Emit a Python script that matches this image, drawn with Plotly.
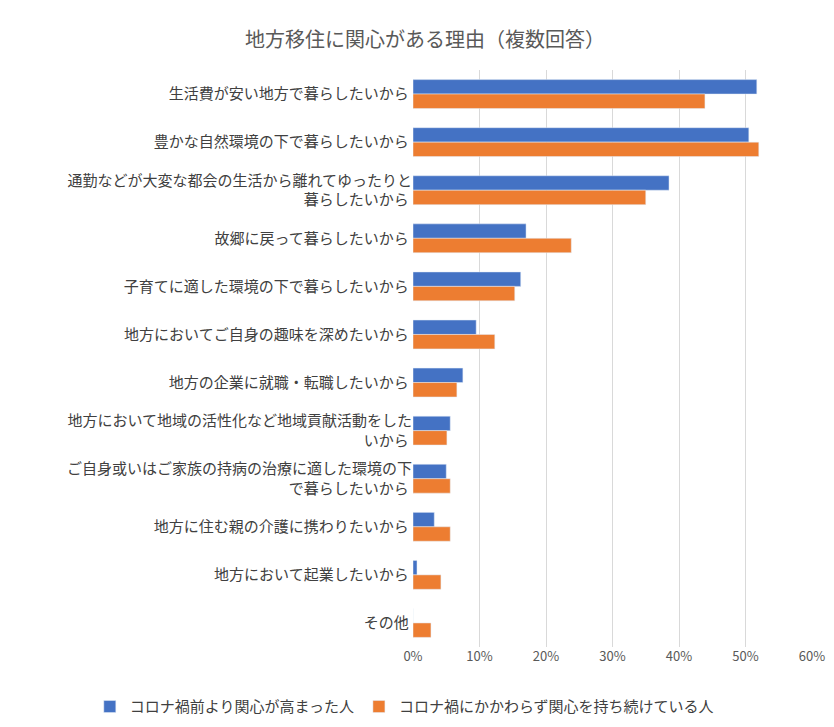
import plotly.graph_objects as go

categories = [
    "生活費が安い地方で暮らしたいから",
    "豊かな自然環境の下で暮らしたいから",
    "通勤などが大変な都会の生活から離れてゆったりと<br>暮らしたいから",
    "故郷に戻って暮らしたいから",
    "子育てに適した環境の下で暮らしたいから",
    "地方においてご自身の趣味を深めたいから",
    "地方の企業に就職・転職したいから",
    "地方において地域の活性化など地域貢献活動をした<br>いから",
    "ご自身或いはご家族の持病の治療に適した環境の下<br>で暮らしたいから",
    "地方に住む親の介護に携わりたいから",
    "地方において起業したいから",
    "その他",
]
before = [51.7, 50.5, 38.5, 17.0, 16.2, 9.5, 7.5, 5.6, 5.0, 3.2, 0.6, 0.0]
continuing = [43.9, 52.0, 35.0, 23.8, 15.3, 12.3, 6.6, 5.1, 5.6, 5.6, 4.2, 2.7]
tick_vals = [0, 10, 20, 30, 40, 50, 60]
tick_text = [f"{v}%" for v in tick_vals]

fig = go.Figure()
fig.add_bar(y=categories, x=before, orientation="h", name="コロナ禍前より関心が高まった人",
            marker_color="#4472C4")
fig.add_bar(y=categories, x=continuing, orientation="h", name="コロナ禍にかかわらず関心を持ち続けている人",
            marker_color="#ED7D31")

fig.update_layout(
    width=834, height=727,
    paper_bgcolor="white", plot_bgcolor="white",
    font=dict(family="Noto Sans CJK JP", size=15, color="#404040"),
    title=dict(text="地方移住に関心がある理由（複数回答）", x=0.5, xanchor="center", y=0.965,
               font=dict(size=20, color="#595959")),
    barmode="group", bargap=0.4, bargroupgap=0,
    margin=dict(l=405, r=30, t=62, b=75),
    legend=dict(orientation="h", x=-0.81, y=-0.075, xanchor="left", yanchor="top",
                font=dict(size=15, color="#404040"), itemwidth=30, tracegroupgap=0),
    xaxis=dict(range=[0, 60], tickvals=tick_vals, ticktext=tick_text, showgrid=True,
               gridcolor="#D9D9D9", zeroline=False, tickfont=dict(color="#595959", size=13)),
    yaxis=dict(autorange="reversed", showline=False, ticksuffix=" ", tickfont=dict(size=15)),
)
fig.write_html("out.html")
